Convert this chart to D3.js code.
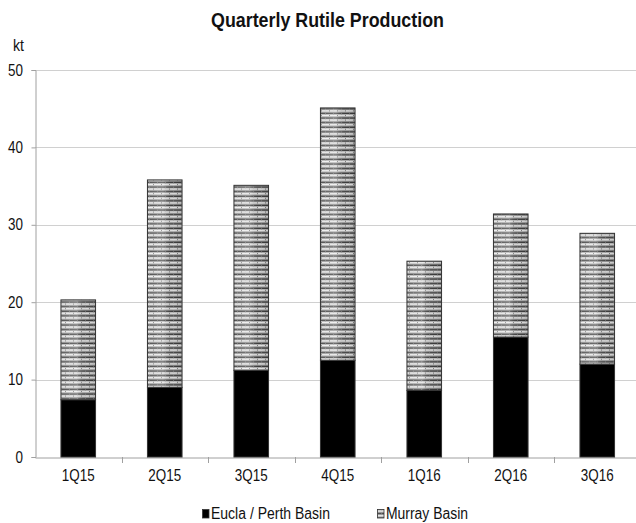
<!DOCTYPE html>
<html>
<head>
<meta charset="utf-8">
<script src="https://cdn.jsdelivr.net/npm/d3@7"></script>
<style>
  html, body { margin: 0; padding: 0; background: #fff; }
  svg { display: block; }
  text { font-family: "Liberation Sans", Arial, sans-serif; fill: #111; }
</style>
</head>
<body>
<svg id="chart" width="636" height="523"></svg>
<script>
// Quarterly rutile production, kt
const quarters = ["1Q15", "2Q15", "3Q15", "4Q15", "1Q16", "2Q16", "3Q16"];
const euclaPerth = [7.4, 9.0, 11.2, 12.5, 8.6, 15.5, 12.0];
const murray = [12.9, 26.8, 23.9, 32.6, 16.7, 15.9, 16.9];
const yTicks = [0, 10, 20, 30, 40, 50];
const seriesNames = ["Eucla / Perth Basin", "Murray Basin"];

const svg = d3.select("#chart");
const margin = { left: 35, top: 70, bottom: 457 };
const step = 86.5;
const narrow = 0.84; // horizontal squeeze for a condensed look

const x = d3.scaleBand()
  .domain(quarters)
  .range([margin.left, margin.left + step * quarters.length])
  .paddingInner(0.6)
  .paddingOuter(0.3);

const y = d3.scaleLinear().domain([0, 50]).range([margin.bottom, margin.top]);

// striped fill for the Murray Basin segment
const defs = svg.append("defs");
const ph = 4.6;
const pat = defs.append("pattern")
  .attr("id", "murrayFill")
  .attr("patternUnits", "userSpaceOnUse")
  .attr("width", 8).attr("height", ph);
pat.append("rect").attr("width", 8).attr("height", ph).attr("fill", "#a4a4a4");
pat.append("rect").attr("y", 0).attr("width", 8).attr("height", 1.5).attr("fill", "#eeeeee");
pat.append("rect").attr("y", 1.5).attr("width", 8).attr("height", 0.9).attr("fill", "#a0a0a0");
pat.append("rect").attr("y", 2.4).attr("width", 8).attr("height", 1.3).attr("fill", "#383838");
pat.append("rect").attr("y", 3.7).attr("width", 8).attr("height", 0.9).attr("fill", "#bcbcbc");
[[1, 0], [5, 3]].forEach(([cx, cy]) => {
  pat.append("rect").attr("x", cx).attr("y", cy).attr("width", 1).attr("height", 1).attr("fill", "#808080");
});

// sideways shading across each striped segment
const grad = defs.append("linearGradient").attr("id", "murrayShade")
  .attr("x1", 0).attr("x2", 1).attr("y1", 0).attr("y2", 0);
grad.append("stop").attr("offset", "0%").attr("stop-color", "#fff").attr("stop-opacity", 0.1);
grad.append("stop").attr("offset", "45%").attr("stop-color", "#fff").attr("stop-opacity", 0.25);
grad.append("stop").attr("offset", "75%").attr("stop-color", "#000").attr("stop-opacity", 0.05);
grad.append("stop").attr("offset", "100%").attr("stop-color", "#000").attr("stop-opacity", 0.15);

// gridlines
svg.append("g")
  .selectAll("line")
  .data(yTicks.filter(d => d > 0))
  .join("line")
  .attr("x1", margin.left).attr("x2", 636)
  .attr("y1", d => Math.round(y(d)) + 0.5).attr("y2", d => Math.round(y(d)) + 0.5)
  .attr("stroke", "#d0d0d0").attr("stroke-width", 1);

// y axis
const yAxis = svg.append("g")
  .attr("transform", `translate(${margin.left + 0.5},0)`)
  .call(d3.axisLeft(y).tickValues(yTicks).tickSize(4).tickPadding(11).tickFormat(d3.format("d")));
yAxis.select(".domain").attr("stroke", "#a0a0a0");
yAxis.selectAll(".tick line").attr("stroke", "#a0a0a0");
yAxis.selectAll(".tick text")
  .attr("font-size", 16).attr("fill", "#111")
  .style("font-family", '"Liberation Sans", Arial, sans-serif')
  .attr("transform", `scale(${narrow},1)`);

// x axis
const xAxis = svg.append("g")
  .attr("transform", `translate(0,${Math.round(margin.bottom) + 0.5})`)
  .call(d3.axisBottom(x).tickSize(0).tickPadding(12));
xAxis.select(".domain").attr("stroke", "#a0a0a0");
xAxis.selectAll(".tick text")
  .attr("font-size", 16).attr("fill", "#111")
  .style("font-family", '"Liberation Sans", Arial, sans-serif')
  .attr("transform", `scale(${narrow},1)`);
// category separators
svg.append("g")
  .selectAll("line")
  .data(d3.range(1, quarters.length))
  .join("line")
  .attr("x1", i => Math.round(margin.left + step * i) + 0.5)
  .attr("x2", i => Math.round(margin.left + step * i) + 0.5)
  .attr("y1", margin.bottom).attr("y2", margin.bottom + 6)
  .attr("stroke", "#a0a0a0");

// stacked bars
const stackData = quarters.map((q, i) => ({ q, e: euclaPerth[i], m: murray[i] }));
const stacked = d3.stack().keys(["e", "m"])(stackData);
const fills = ["#000", "url(#murrayFill)"];

const layers = svg.append("g")
  .selectAll("g")
  .data(stacked)
  .join("g");
layers.each(function (layer, li) {
  const g = d3.select(this);
  g.selectAll("rect.seg")
    .data(layer)
    .join("rect")
    .attr("class", "seg")
    .attr("x", d => x(d.data.q))
    .attr("width", x.bandwidth())
    .attr("y", d => y(d[1]))
    .attr("height", d => y(d[0]) - y(d[1]))
    .attr("fill", fills[li]);
  if (li === 1) {
    g.selectAll("rect.shade")
      .data(layer)
      .join("rect")
      .attr("class", "shade")
      .attr("x", d => x(d.data.q))
      .attr("width", x.bandwidth())
      .attr("y", d => y(d[1]))
      .attr("height", d => y(d[0]) - y(d[1]))
      .attr("fill", "url(#murrayShade)");
  }
  g.selectAll("rect.edge")
    .data(layer)
    .join("rect")
    .attr("class", "edge")
    .attr("x", d => x(d.data.q))
    .attr("width", x.bandwidth())
    .attr("y", d => y(d[1]))
    .attr("height", d => y(d[0]) - y(d[1]))
    .attr("fill", "none")
    .attr("stroke", "#333")
    .attr("stroke-width", 1);
});

// title and unit
svg.append("text")
  .attr("x", 211).attr("y", 27)
  .attr("font-size", 21).attr("font-weight", "bold")
  .attr("textLength", 233).attr("lengthAdjust", "spacingAndGlyphs")
  .text("Quarterly Rutile Production");
svg.append("text")
  .attr("x", 13).attr("y", 51)
  .attr("font-size", 16)
  .attr("textLength", 11).attr("lengthAdjust", "spacingAndGlyphs")
  .text("kt");

// legend
const legend = svg.append("g");
const legendItems = [
  { name: seriesNames[0], fill: "#000", x: 202, len: 119 },
  { name: seriesNames[1], fill: "url(#murrayFill)", x: 377, len: 82 }
];
legendItems.forEach(it => {
  legend.append("rect")
    .attr("x", it.x + 0.5).attr("y", 509.5).attr("width", 6.5).attr("height", 8.5)
    .attr("fill", it.fill).attr("stroke", "#333").attr("stroke-width", 0.8);
  legend.append("text")
    .attr("x", it.x + 9).attr("y", 519)
    .attr("font-size", 16)
    .attr("textLength", it.len).attr("lengthAdjust", "spacingAndGlyphs")
    .text(it.name);
});
</script>
</body>
</html>
